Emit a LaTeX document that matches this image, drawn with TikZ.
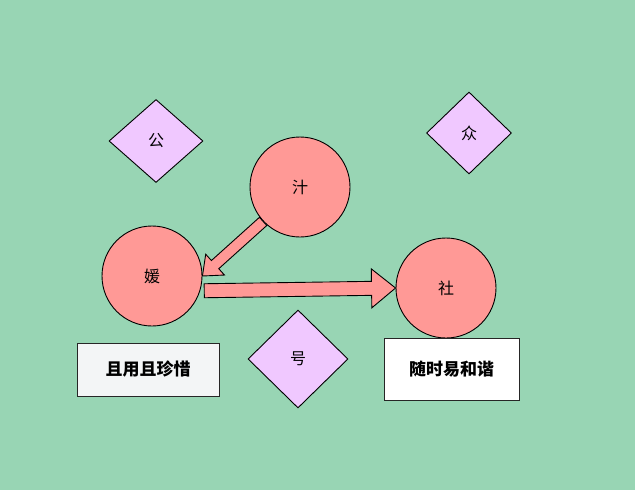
\documentclass[tikz,border=0pt]{standalone}
\usepackage{fontspec}
\newfontfamily\cjk{Noto Sans CJK SC}
\usetikzlibrary{shapes.geometric,calc}

\definecolor{bggreen}{RGB}{152,213,180}
\definecolor{circpink}{RGB}{255,153,150}
\definecolor{diamlilac}{RGB}{240,200,255}
\definecolor{boxgray}{RGB}{243,245,246}

% block arrow: start, end, shaft half width, head half width, head length
\newcommand{\blockarrow}[5]{%
  \coordinate (hb) at ($(#2)!#5!(#1)$);
  \draw[barrow] ($(#1)!#3!90:(#2)$) -- ($(hb)!#3!90:(#2)$) -- ($(hb)!#4!90:(#2)$)
    -- (#2) -- ($(hb)!#4!-90:(#2)$) -- ($(hb)!#3!-90:(#2)$) -- ($(#1)!#3!-90:(#2)$) -- cycle;}

\begin{document}
\begin{tikzpicture}[x=1pt,y=-1pt,line width=0.9pt,
  circ/.style={circle,draw,fill=circpink,minimum size=100pt,inner sep=0pt,font=\cjk\fontsize{16}{16}\selectfont},
  diam/.style n args={2}{diamond,draw,fill=diamlilac,minimum width=#1,minimum height=#2,inner sep=0pt,font=\cjk\fontsize{16}{16}\selectfont},
  txtbox/.style n args={3}{rectangle,draw=black!85,fill=#1,minimum width=#2,minimum height=#3,inner sep=0pt,font=\cjk\bfseries\fontsize{17}{17}\selectfont},
  barrow/.style={draw,fill=circpink,line join=miter}]
\fill[bggreen] (0,0) rectangle (635,490);
\useasboundingbox (0,0) rectangle (635,490);

\foreach \n/\x/\y/\w/\h/\t in %
{gong/156/141/94pt/83pt/公,zhong/469/133/85pt/82pt/众,hao/298/359/100pt/98pt/号} {
   \node[diam={\w}{\h}] (\n) at (\x,\y) {\t};
}

\node[circ] (zhi) at (300,187) {汁};
\node[circ] (yuan) at (152,276) {媛};
\node[circ] (she) at (446,288) {社};

\node[txtbox={boxgray}{142pt}{53pt}] (cherish) at (148,369.5) {且用且珍惜};
\node[txtbox={white}{135pt}{62pt}] (harmony) at (451.5,369) {随时易和谐};

\coordinate (a1s) at (zhi.223);
\coordinate (a1e) at (yuan.0);
\coordinate (a2s) at ([xshift=4pt]yuan.-17);
\coordinate (a2e) at (she.west);
\blockarrow{a1s}{a1e}{5.5pt}{14pt}{17pt}
\blockarrow{a2s}{a2e}{7pt}{19.5pt}{24pt}
\end{tikzpicture}
\end{document}
